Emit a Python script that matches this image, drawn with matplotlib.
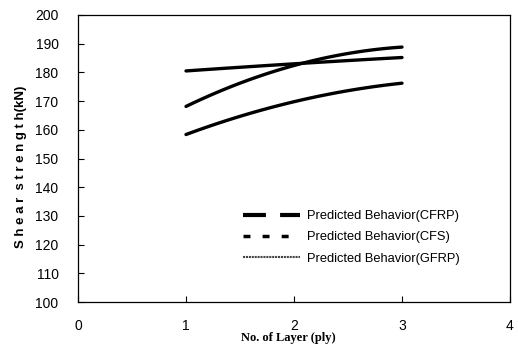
import matplotlib
matplotlib.use("Agg")
import matplotlib.pyplot as plt
from matplotlib.lines import Line2D
import numpy as np

# Data
layers = [1.0, 1.5, 2.0, 2.5, 3.0]
cfrp = [180.5, 181.8, 183.0, 184.1, 185.2]
cfs = [168.0, 176.5, 182.5, 186.2, 189.0]
gfrp = [158.3, 164.8, 169.8, 173.5, 176.3]

labels = ["Predicted Behavior(CFRP)", "Predicted Behavior(CFS)", "Predicted Behavior(GFRP)"]
xticks = [0, 1, 2, 3, 4]
yticks = list(range(100, 201, 10))

plt.rcParams['font.family'] = ['Liberation Sans', 'DejaVu Sans']

fig = plt.figure(figsize=(5.18, 3.45), dpi=100)
ax = fig.add_axes([78/518, 43/345, 432/518, 287/345])

def smooth(x, y):
    xs = np.linspace(min(x), max(x), 100)
    c = np.polyfit(x, y, 2)
    return xs, np.polyval(c, xs)

for ys in (cfrp, cfs, gfrp):
    xs, yv = smooth(layers, ys)
    ax.plot(xs, yv, color='black', lw=2.4, solid_capstyle='round')

ax.set_xlim(0, 4)
ax.set_ylim(100, 200)
ax.set_xticks(xticks)
ax.set_yticks(yticks)
ax.tick_params(axis='both', direction='in', length=4, width=0.8, labelsize=10)
ax.tick_params(axis='x', pad=12)
ax.tick_params(axis='y', pad=14)
for s in ax.spines.values():
    s.set_linewidth(0.9)

ax.set_ylabel("S h e a r  s t r e n g t h(kN)", fontsize=9.5, fontweight='bold')
ax.yaxis.set_label_coords(-0.118, 0.47)
ax.set_xlabel("No. of Layer (ply)", fontsize=9, fontweight='bold',
              family=['Liberation Serif', 'DejaVu Serif'])
ax.xaxis.set_label_coords(0.486, -0.105)

handles = [
    Line2D([], [], color='black', lw=3, dashes=(5.5, 3.4)),
    Line2D([], [], color='black', lw=2.5, dashes=(2, 3.5)),
    Line2D([], [], color='#444444', lw=1.5, linestyle=(0, (1, 0.4))),
]
ax.legend(handles, labels, loc='center left', bbox_to_anchor=(0.382, 0.225),
          frameon=False, fontsize=9.3, handlelength=4.4, handletextpad=0.55,
          borderpad=0, borderaxespad=0, labelspacing=0.7)

fig.savefig("out.png", dpi=100)
